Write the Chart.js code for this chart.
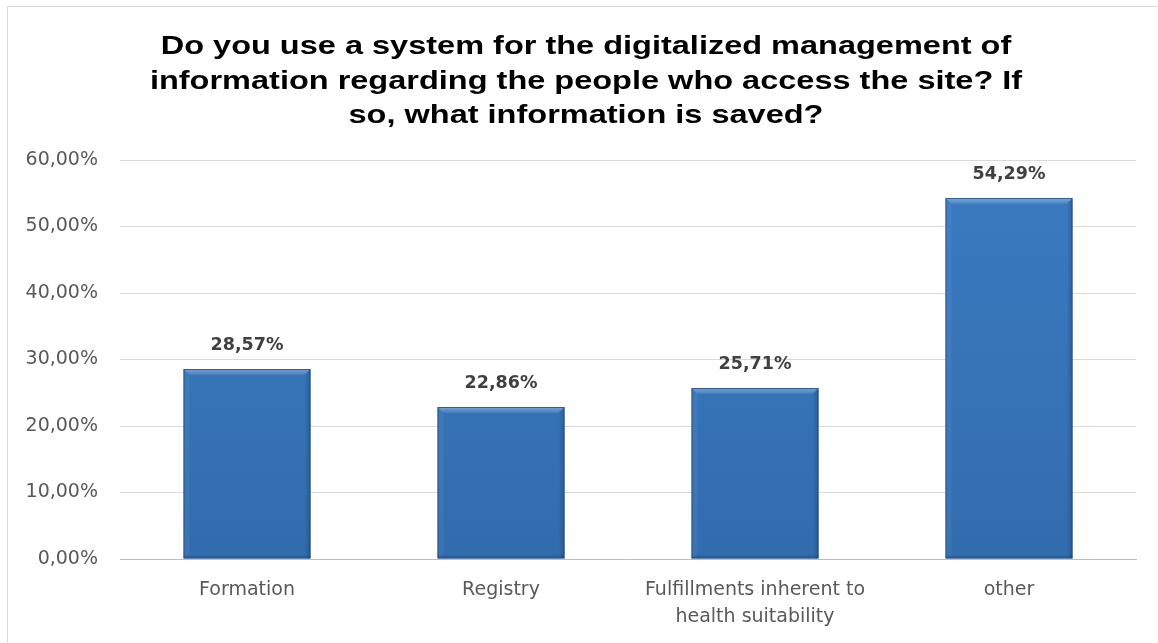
<!DOCTYPE html>
<html>
<head>
<meta charset="utf-8">
<script src="https://cdn.jsdelivr.net/npm/chart.js@4"></script>
<style>
  html, body { margin: 0; padding: 0; background: #fff; overflow: hidden; }
  #frame { position: absolute; left: 7px; top: 6px; width: 1170px; height: 660px; border: 1px solid #d9d9d9; }
  #wrap { position: absolute; left: 0; top: 0; width: 1158px; height: 643px; }
</style>
</head>
<body>
<div id="frame"></div>
<div id="wrap"><canvas id="barChart"></canvas></div>
<script>
// Survey answers (share of respondents, %)
const categories = ["Formation", "Registry", ["Fulfillments inherent to", "health suitability"], "other"];
const shares = [28.57, 22.86, 25.71, 54.29];
const yTicks = [0, 10, 20, 30, 40, 50, 60];

const titleLines = [
  "Do you use a system for the digitalized management of",
  "information regarding the people who access the site? If",
  "so, what information is saved?"
];

const labelFont = "'DejaVu Sans', 'Open Sans', sans-serif";
const fmtPct = v => v.toFixed(2).replace(".", ",") + "%";

// Wide bold heading, three centred lines
const heading = {
  id: "heading",
  afterDraw(chart) {
    const ctx = chart.ctx;
    ctx.save();
    ctx.fillStyle = "#000";
    ctx.font = "bold 26px 'Liberation Sans', Arial, sans-serif";
    ctx.textAlign = "center";
    ctx.textBaseline = "alphabetic";
    titleLines.forEach((line, i) => {
      ctx.save();
      ctx.translate(586, 54 + i * 34.5);
      ctx.scale(1.25, 1);
      ctx.fillText(line, 0, 0);
      ctx.restore();
    });
    ctx.restore();
  }
};

// Excel-like bevel on each bar plus the value label above it
const barDecor = {
  id: "barDecor",
  afterDatasetsDraw(chart) {
    const ctx = chart.ctx;
    const meta = chart.getDatasetMeta(0);
    meta.data.forEach((bar, i) => {
      const l = bar.x - bar.width / 2, r = bar.x + bar.width / 2;
      const t = bar.y, b = bar.base, d = 6;
      ctx.save();
      // top highlight
      const hg = ctx.createLinearGradient(0, t, 0, t + d);
      hg.addColorStop(0, "rgba(255,255,255,0.35)");
      hg.addColorStop(1, "rgba(255,255,255,0.08)");
      ctx.fillStyle = hg;
      ctx.beginPath();
      ctx.moveTo(l, t); ctx.lineTo(r, t); ctx.lineTo(r - d, t + d); ctx.lineTo(l + d, t + d);
      ctx.closePath(); ctx.fill();
      // right edge shade
      const rg = ctx.createLinearGradient(r - d, 0, r, 0);
      rg.addColorStop(0, "rgba(0,0,0,0)");
      rg.addColorStop(1, "rgba(0,0,0,0.18)");
      ctx.fillStyle = rg;
      ctx.beginPath();
      ctx.moveTo(r, t); ctx.lineTo(r - d, t + d); ctx.lineTo(r - d, b - 3); ctx.lineTo(r, b);
      ctx.closePath(); ctx.fill();
      // left edge, slightly lighter
      ctx.fillStyle = "rgba(255,255,255,0.05)";
      ctx.beginPath();
      ctx.moveTo(l, t); ctx.lineTo(l + d, t + d); ctx.lineTo(l + d, b - 3); ctx.lineTo(l, b);
      ctx.closePath(); ctx.fill();
      // bottom shade
      ctx.fillStyle = "rgba(0,0,0,0.10)";
      ctx.fillRect(l, b - 3, bar.width, 3);
      ctx.strokeStyle = "rgba(35,75,125,0.8)";
      ctx.lineWidth = 1;
      ctx.strokeRect(l + 0.5, t + 0.5, bar.width - 1, b - t - 1);
      // value label
      ctx.fillStyle = "#404040";
      ctx.font = "bold 17.5px " + labelFont;
      ctx.textAlign = "center";
      ctx.textBaseline = "middle";
      ctx.fillText(fmtPct(shares[i]), bar.x, t - 24);
      ctx.restore();
    });
  }
};

const ctxBar = document.getElementById("barChart");
new Chart(ctxBar, {
  type: "bar",
  data: {
    labels: categories,
    datasets: [{
      data: shares,
      backgroundColor: (c) => {
        const area = c.chart.chartArea;
        if (!area) return "#3a78bf";
        const g = c.chart.ctx.createLinearGradient(0, area.top, 0, area.bottom);
        g.addColorStop(0, "#3c7bc1");
        g.addColorStop(1, "#316cae");
        return g;
      },
      borderWidth: 0,
      categoryPercentage: 1,
      barPercentage: 0.5
    }]
  },
  options: {
    responsive: true,
    maintainAspectRatio: false,
    animation: false,
    layout: { padding: { left: 8, right: 22, top: 160, bottom: 0 } },
    plugins: {
      legend: { display: false },
      tooltip: { enabled: false },
      title: { display: false }
    },
    scales: {
      x: {
        afterFit: (axis) => { axis.height = 84; },
        grid: { display: false, drawTicks: false },
        border: { color: "#bfbfbf" },
        ticks: {
          color: "#595959",
          font: { family: labelFont, size: 19, lineHeight: 1.42 },
          padding: 18,
          maxRotation: 0,
          autoSkip: false
        }
      },
      y: {
        min: 0,
        max: 60,
        afterBuildTicks: (axis) => { axis.ticks = yTicks.map(v => ({ value: v })); },
        afterFit: (axis) => { axis.width = 112; },
        grid: { color: "#d9d9d9", drawTicks: false },
        border: { display: false },
        ticks: {
          color: "#595959",
          font: { family: labelFont, size: 19 },
          padding: 22,
          callback: (v) => fmtPct(v)
        }
      }
    }
  },
  plugins: [barDecor, heading]
});
</script>
</body>
</html>
